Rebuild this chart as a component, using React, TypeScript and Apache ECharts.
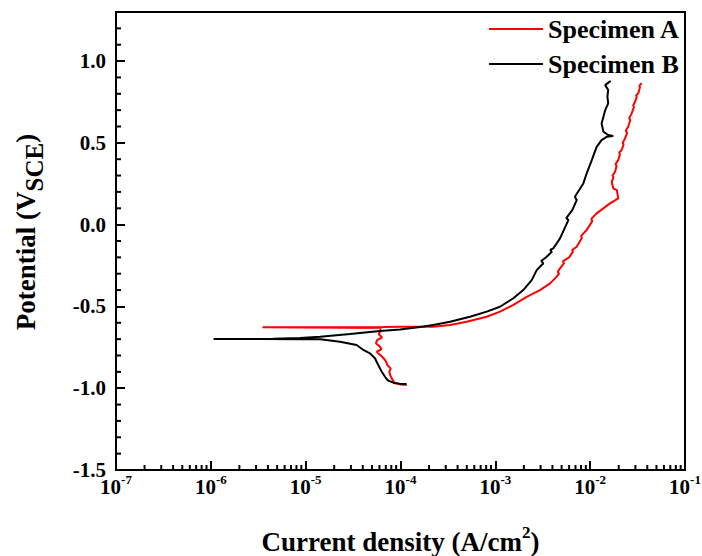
import React, { useEffect, useRef } from 'react';
import * as echarts from 'echarts';

const FONT = '"Liberation Serif", "Times New Roman", serif';

// [current density (A/cm2), potential (V vs SCE)]
const specimenA: [number, number][] = [
  [1.16e-4, -0.98], [1.02e-4, -0.978], [8.75e-5, -0.97], [8.4e-5, -0.955], [8.07e-5, -0.94],
  [7.8e-5, -0.92], [7.62e-5, -0.899], [7.9e-5, -0.88], [7.26e-5, -0.858], [7.0e-5, -0.835],
  [6.59e-5, -0.815], [6.2e-5, -0.8], [5.61e-5, -0.777], [6.3e-5, -0.762], [6.08e-5, -0.746],
  [5.5e-5, -0.725], [5.7e-5, -0.705], [6.4e-5, -0.69], [5.9e-5, -0.67], [6.08e-5, -0.655],
  [6.2e-5, -0.632], [3.5e-6, -0.628], [4.0e-5, -0.627], [6.5e-5, -0.626], [9.89e-5, -0.624],
  [2.22e-4, -0.624], [3.33e-4, -0.614], [4.99e-4, -0.594], [8.11e-4, -0.563], [1.12e-3, -0.532],
  [1.55e-3, -0.491], [2.14e-3, -0.441], [2.96e-3, -0.4], [3.78e-3, -0.359], [4.44e-3, -0.318],
  [4.7e-3, -0.3], [4.55e-3, -0.29], [4.81e-3, -0.267], [5.3e-3, -0.235], [5.15e-3, -0.225],
  [6.0e-3, -0.2], [6.6e-3, -0.165], [6.45e-3, -0.155], [7.21e-3, -0.135], [8.2e-3, -0.08],
  [8.0e-3, -0.07], [9.18e-3, -0.033], [1.05e-2, 0.02], [1.03e-2, 0.035], [1.17e-2, 0.069],
  [1.62e-2, 0.13], [1.98e-2, 0.161], [1.91e-2, 0.211], [1.75e-2, 0.222], [1.69e-2, 0.262],
  [1.76e-2, 0.29], [1.72e-2, 0.3], [1.83e-2, 0.323], [1.9e-2, 0.36], [1.85e-2, 0.37],
  [1.98e-2, 0.395], [2.06e-2, 0.43], [2.02e-2, 0.44], [2.15e-2, 0.456], [2.25e-2, 0.49],
  [2.2e-2, 0.5], [2.33e-2, 0.527], [2.45e-2, 0.56], [2.38e-2, 0.575], [2.52e-2, 0.598],
  [2.65e-2, 0.64], [2.58e-2, 0.65], [2.74e-2, 0.68], [2.9e-2, 0.72], [2.84e-2, 0.73],
  [2.97e-2, 0.751], [3.1e-2, 0.78], [3.05e-2, 0.79], [3.22e-2, 0.803], [3.35e-2, 0.84],
  [3.3e-2, 0.85], [3.5e-2, 0.864],
];

const specimenB: [number, number][] = [
  [1.16e-4, -0.974], [9.8e-5, -0.972], [8.39e-5, -0.966], [7.43e-5, -0.954], [7.1e-5, -0.942],
  [6.87e-5, -0.93], [6.6e-5, -0.915], [6.34e-5, -0.899], [6.1e-5, -0.88], [5.83e-5, -0.858],
  [5.6e-5, -0.838], [5.38e-5, -0.817], [4.76e-5, -0.787], [4.06e-5, -0.766], [3.45e-5, -0.736],
  [2.3e-5, -0.716], [1.42e-5, -0.701], [8.7e-6, -0.7], [3.3e-6, -0.699], [1.07e-6, -0.699],
  [2.5e-6, -0.699], [4.53e-6, -0.698], [8.71e-6, -0.693], [1.42e-5, -0.685], [2.94e-5, -0.669],
  [6.08e-5, -0.65], [9.89e-5, -0.641], [1.61e-4, -0.626], [2.22e-4, -0.614], [3.33e-4, -0.594],
  [5.41e-4, -0.563], [8.11e-4, -0.532], [1.12e-3, -0.502], [1.55e-3, -0.45], [1.97e-3, -0.4],
  [2.42e-3, -0.339], [2.73e-3, -0.278], [3.08e-3, -0.247], [3.21e-3, -0.237], [3.05e-3, -0.222],
  [3.48e-3, -0.196], [3.94e-3, -0.166], [3.8e-3, -0.155], [4.08e-3, -0.145], [4.44e-3, -0.114],
  [4.81e-3, -0.084], [5.89e-3, 0.028], [5.6e-3, 0.04], [6.5e-3, 0.09], [7.21e-3, 0.15],
  [6.9e-3, 0.17], [8.47e-3, 0.252], [9.2e-3, 0.314], [1.04e-2, 0.395], [1.17e-2, 0.476],
  [1.32e-2, 0.517], [1.49e-2, 0.537], [1.75e-2, 0.542], [1.55e-2, 0.548], [1.38e-2, 0.568],
  [1.32e-2, 0.619], [1.38e-2, 0.66], [1.44e-2, 0.7], [1.55e-2, 0.741], [1.52e-2, 0.782],
  [1.55e-2, 0.823], [1.44e-2, 0.853], [1.59e-2, 0.873], [1.65e-2, 0.878],
];

const seriesNames = ['Specimen A', 'Specimen B'];
const seriesColors = ['#ff0000', '#000000'];

const X_MIN = 1e-7;
const X_MAX = 1e-1;
const Y_MIN = -1.5;
const Y_MAX = 1.3;

const xMinorDecades = [-7, -6, -5, -4, -3, -2];
const xMinorMantissas = [2, 3, 4, 5, 6, 7, 8, 9];
const yMinorTicks = [
  -1.4, -1.3, -1.2, -1.1, -0.9, -0.8, -0.7, -0.6, -0.4, -0.3, -0.2, -0.1,
  0.1, 0.2, 0.3, 0.4, 0.6, 0.7, 0.8, 0.9, 1.1, 1.2,
];

const xMinorTicks: number[] = [];
xMinorDecades.forEach((e) =>
  xMinorMantissas.forEach((m) => xMinorTicks.push(Number((m * Math.pow(10, e)).toPrecision(3))))
);

export default function App() {
  const ref = useRef<HTMLDivElement>(null);

  useEffect(() => {
    if (!ref.current) return;
    const chart = echarts.init(ref.current, undefined, { renderer: 'svg' });

    const option: any = {
      animation: false,
      grid: {
        left: 116,
        right: 17,
        top: 12,
        bottom: 86,
        containLabel: false,
        outerBoundsMode: 'none',
        show: true,
        borderColor: '#000',
        borderWidth: 2,
        backgroundColor: 'transparent',
      },
      legend: {
        orient: 'vertical',
        left: 489,
        top: 16,
        padding: 0,
        icon: 'rect',
        itemWidth: 54,
        itemHeight: 2,
        itemGap: 9,
        selectedMode: false,
        data: seriesNames,
        textStyle: {
          fontFamily: FONT,
          fontSize: 26,
          fontWeight: 'bold',
          lineHeight: 26,
          color: '#000',
        },
      },
      xAxis: {
        type: 'log',
        logBase: 10,
        min: X_MIN,
        max: X_MAX,
        name: 'Current density (A/cm{s|2})',
        nameLocation: 'middle',
        nameGap: 57,
        nameTextStyle: {
          fontFamily: FONT,
          fontSize: 27,
          fontWeight: 'bold',
          color: '#000',
          lineHeight: 30,
          rich: {
            s: {
              fontFamily: FONT,
              fontSize: 17,
              fontWeight: 'bold',
              color: '#000',
              lineHeight: 17,
              padding: [0, 0, 19, 0],
            },
          },
        },
        axisLine: { show: true, onZero: false, lineStyle: { color: '#000', width: 2 } },
        axisTick: { show: true, inside: true, length: 9, lineStyle: { color: '#000', width: 2 } },
        minorTick: { show: false },
        splitLine: { show: false },
        axisLabel: {
          margin: 6,
          color: '#000',
          formatter: (v: number) => '{b|10}{s|' + Math.round(Math.log10(v)) + '}',
          rich: {
            b: { fontFamily: FONT, fontSize: 21, fontWeight: 'bold', color: '#000', lineHeight: 21 },
            s: {
              fontFamily: FONT,
              fontSize: 13,
              fontWeight: 'bold',
              color: '#000',
              lineHeight: 13,
              padding: [0, 0, 14, 0],
            },
          },
        },
      },
      yAxis: {
        type: 'value',
        min: Y_MIN,
        max: Y_MAX,
        interval: 0.5,
        axisLine: { show: true, onZero: false, lineStyle: { color: '#000', width: 2 } },
        axisTick: { show: true, inside: true, length: 9, lineStyle: { color: '#000', width: 2 } },
        splitLine: { show: false },
        axisLabel: {
          margin: 10,
          showMaxLabel: false,
          fontFamily: FONT,
          fontSize: 21,
          fontWeight: 'bold',
          color: '#000',
          formatter: (v: number) => (v > 1.25 ? '' : v.toFixed(1)),
        },
      },
      graphic: [
        {
          type: 'text',
          x: 26,
          y: 232,
          rotation: Math.PI / 2,
          silent: true,
          style: {
            text: 'Potential (V{sub|SCE})',
            fontFamily: FONT,
            fontSize: 27,
            fontWeight: 'bold',
            fill: '#000',
            align: 'center',
            verticalAlign: 'middle',
            lineHeight: 30,
            rich: {
              sub: {
                fontFamily: FONT,
                fontSize: 25,
                fontWeight: 'bold',
                fill: '#000',
                lineHeight: 25,
                padding: [16, 0, 0, 0],
              },
            },
          },
        },
      ],
      series: [
        {
          type: 'custom',
          name: 'xMinor',
          silent: true,
          clip: false,
          data: xMinorTicks.map((v) => [v, Y_MIN]),
          renderItem: (_p: any, api: any) => {
            const pt = api.coord([api.value(0), api.value(1)]);
            return {
              type: 'line',
              shape: { x1: pt[0], y1: pt[1], x2: pt[0], y2: pt[1] - 5 },
              style: { stroke: '#000', lineWidth: 2 },
            };
          },
        },
        {
          type: 'custom',
          name: 'yMinor',
          silent: true,
          clip: false,
          data: yMinorTicks.map((v) => [X_MIN, v]),
          renderItem: (_p: any, api: any) => {
            const pt = api.coord([api.value(0), api.value(1)]);
            return {
              type: 'line',
              shape: { x1: pt[0], y1: pt[1], x2: pt[0] + 5, y2: pt[1] },
              style: { stroke: '#000', lineWidth: 2 },
            };
          },
        },
        {
          type: 'line',
          name: seriesNames[0],
          data: specimenA,
          symbol: 'none',
          showSymbol: false,
          color: seriesColors[0],
          lineStyle: { color: seriesColors[0], width: 2 },
          z: 3,
        },
        {
          type: 'line',
          name: seriesNames[1],
          data: specimenB,
          symbol: 'none',
          showSymbol: false,
          color: seriesColors[1],
          lineStyle: { color: seriesColors[1], width: 2 },
          z: 4,
        },
      ],
    };

    chart.setOption(option);
    return () => chart.dispose();
  }, []);

  return (
    <div
      ref={ref}
      style={{ position: 'absolute', left: 0, top: 0, width: 702, height: 556 }}
    />
  );
}
